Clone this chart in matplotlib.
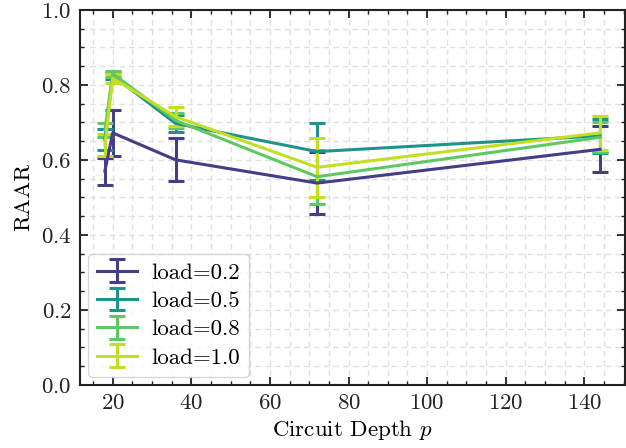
import matplotlib
matplotlib.use("Agg")
import matplotlib.pyplot as plt
from matplotlib.ticker import MultipleLocator

plt.rcParams.update({
    "font.family": "serif",
    "font.serif": ["cmr10", "DejaVu Serif"],
    "mathtext.fontset": "cm",
    "axes.formatter.use_mathtext": True,
    "font.size": 16.5,
})

depths = [18, 20, 36, 72, 144]
loads = ["0.2", "0.5", "0.8", "1.0"]
raar_02 = [0.570, 0.672, 0.600, 0.538, 0.628]
err_02 = [0.036, 0.062, 0.057, 0.082, 0.061]
raar_05 = [0.655, 0.825, 0.697, 0.622, 0.664]
err_05 = [0.028, 0.010, 0.022, 0.076, 0.045]
raar_08 = [0.680, 0.830, 0.705, 0.555, 0.660]
err_08 = [0.018, 0.008, 0.020, 0.072, 0.040]
raar_10 = [0.640, 0.818, 0.715, 0.580, 0.672]
err_10 = [0.030, 0.012, 0.026, 0.079, 0.045]

series = [raar_02, raar_05, raar_08, raar_10]
errors = [err_02, err_05, err_08, err_10]
colors = ["#433e85", "#21918c", "#5ec962", "#c2df23"]

fig = plt.figure(figsize=(6.26, 4.48), dpi=100)
ax = fig.add_axes([0.128, 0.141, 0.870, 0.837])

for ld, ys, es, c in zip(loads, series, errors, colors):
    ax.errorbar(depths, ys, yerr=es, color=c, lw=2.2, capsize=6, capthick=2.2,
                label=f"load={ld}")

ax.set_ylim(0, 1.0)
ax.xaxis.set_major_locator(MultipleLocator(20))
ax.xaxis.set_minor_locator(MultipleLocator(5))
ax.yaxis.set_major_locator(MultipleLocator(0.2))
ax.yaxis.set_minor_locator(MultipleLocator(0.05))
ax.tick_params(which="both", direction="in", top=True, right=True, colors="#222222")
ax.tick_params(which="major", length=6, width=1.3, pad=6)
ax.tick_params(which="minor", length=3, width=1.0)
ax.grid(which="both", linestyle=(0, (4, 3)), color="#e0e0e0", linewidth=1.0)
ax.set_axisbelow(True)
for s in ax.spines.values():
    s.set_linewidth(1.5)
    s.set_color("#222222")

ax.set_xlabel("Circuit Depth $p$", labelpad=4)
ax.set_ylabel("RAAR", labelpad=6)
ax.legend(loc="lower left", fancybox=True, framealpha=0.8, edgecolor="#cccccc",
          handlelength=1.75, borderpad=0.4, labelspacing=0.36, handletextpad=0.6,
          borderaxespad=0.35)

fig.savefig("out.png", dpi=100)
